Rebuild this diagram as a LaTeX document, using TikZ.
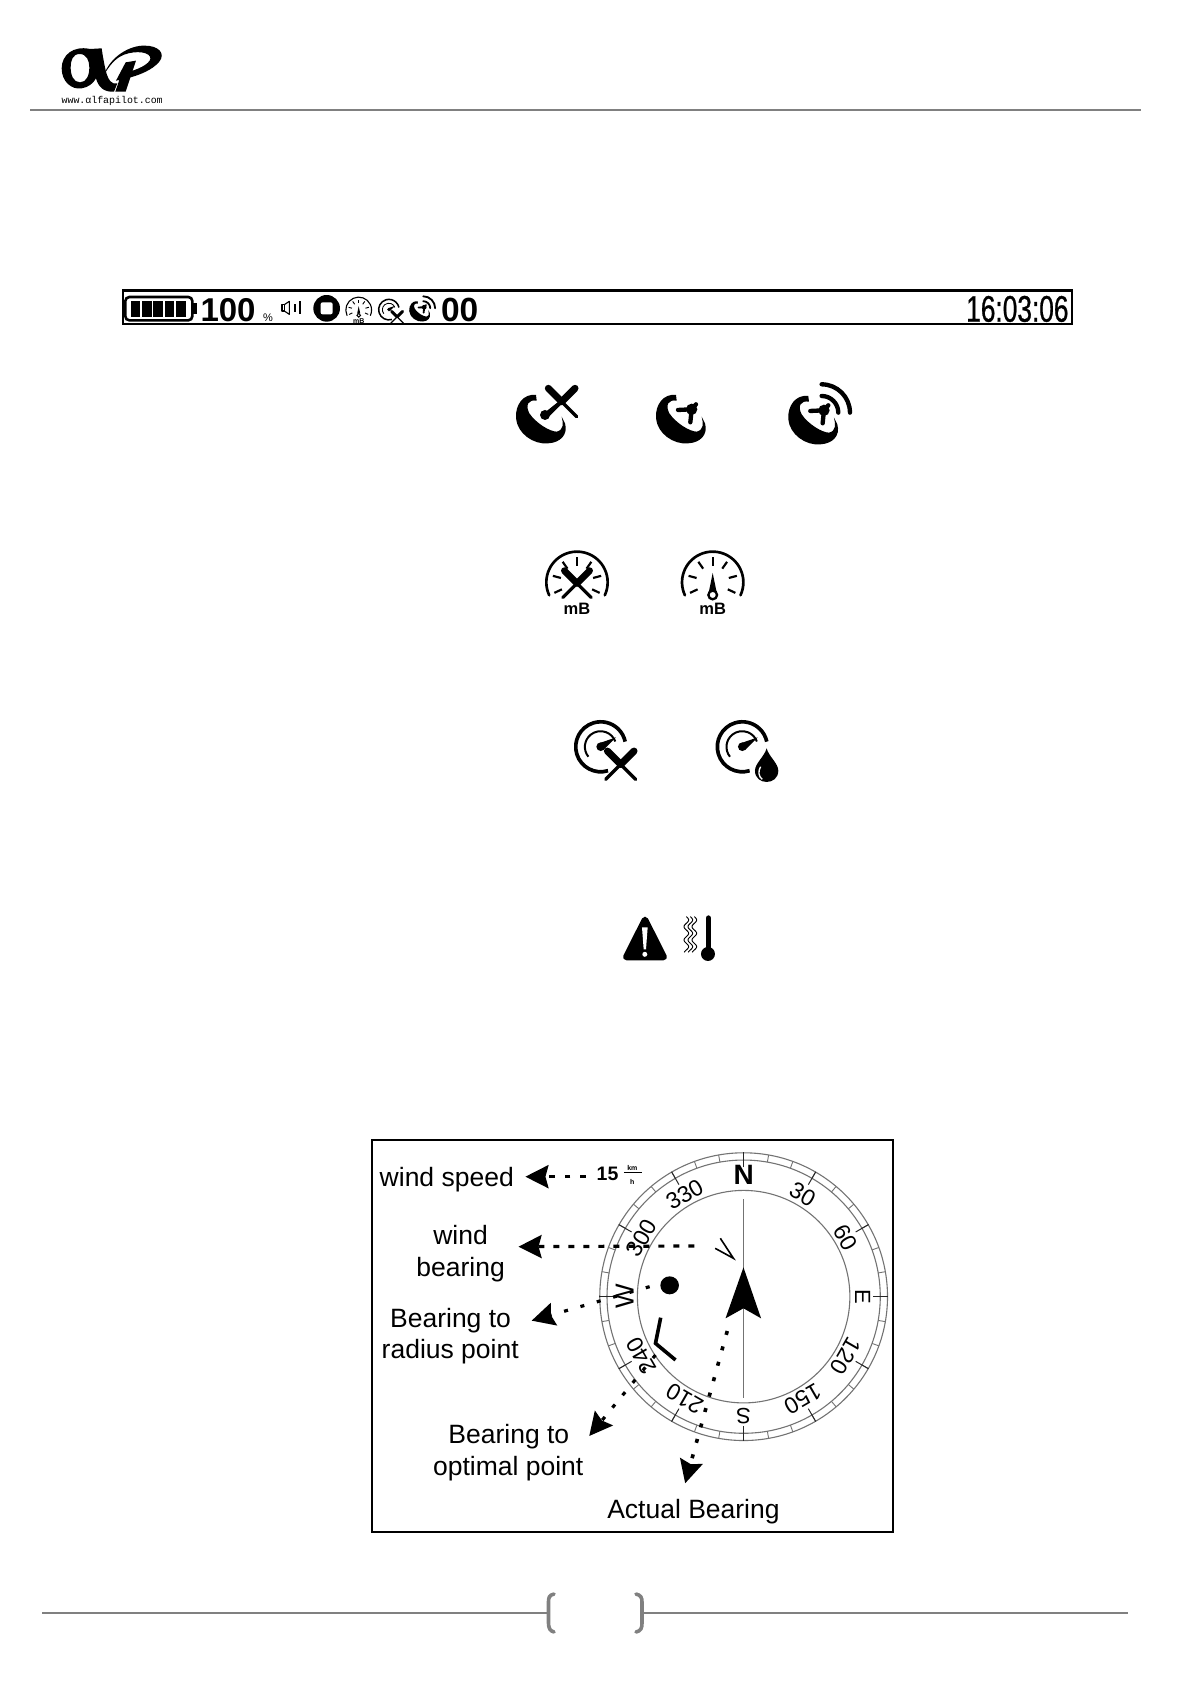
\documentclass[tikz,border=0pt]{standalone}
\usepackage{fontspec}
\setmainfont{Liberation Sans}
\newfontfamily\monof{Liberation Mono}
\newfontfamily\clockf[FakeBold=.9]{Liberation Sans}
\usetikzlibrary{arrows.meta}
\newcommand{\fsz}[1]{\fontsize{#1}{#1}\selectfont}
\tikzset{
  txt/.style={inner sep=0pt,outer sep=0pt},
  rule/.style={draw=black!50,line width=2pt},
  brk/.style={draw=black!50,line width=3.6pt,line cap=round},
  ring/.style={draw=black!55,line width=1.1pt},
  ptr/.style={line width=3.2pt,line cap=butt,-{Stealth[length=23pt,width=23pt,inset=3pt]}},
}
% cross: #1 x, #2 y, #3 scale, #4 unit
\newcommand{\crossicon}[4]{%
  \begin{scope}[shift={(#1,#2)},scale=#3,line cap=round]
    \draw[line width=#4*#3*10pt] (-42,-42)--(45,45);
    \draw[line width=#4*#3*10pt] (42,-42)--(-45,45);
    \draw[line width=#4*#3*21pt] (-40,-40)--(0,0);
    \draw[line width=#4*#3*21pt] (40,-40)--(0,0);
  \end{scope}}
% dish: #1 #2 position, #3 unit, #4 kind 0 cross,1 arm,2 waves
\newcommand{\dishicon}[4]{%
  \begin{scope}[shift={(#1,#2)},x=#3pt,y=-#3pt,line cap=round]
    \fill (-12,-70) .. controls (-50,-75) and (-75,-40) .. (-72,0)
      .. controls (-68,45) and (-20,80) .. (25,75)
      .. controls (60,73) and (85,50) .. (75,15) -- (65,-5)
      .. controls (70,15) and (72,35) .. (50,40)
      .. controls (30,40) and (-12,15) .. (-32,-15)
      .. controls (-45,-40) and (-35,-57) .. (-10,-53) -- cycle;
    \ifnum#4=0
      \fill (15,-10) circle[radius=15];
      \draw[line width=#3*12pt] (15,-10)--(65,-50);
      \crossicon{65}{-50}{1}{#3}
    \else
      \fill (35,-27) circle[radius=17];
      \draw[line width=#3*13pt] (35,-27)--(-6,-25);
      \draw[line width=#3*13pt] (35,-27)--(31,12);
      \draw[line width=#3*13pt] (35,-27)--(48,-42);
    \fi
    \ifnum#4=2
      \draw[line width=#3*13pt] (28,-70) arc[start angle=270,end angle=360,radius=50];
      \draw[line width=#3*13pt] (28,-105) arc[start angle=270,end angle=360,radius=85];
    \fi
  \end{scope}}
% gauge: #1 #2 arc centre, #3 unit, #4 0 cross 1 needle, #5 font size
\newcommand{\gaugeicon}[5]{%
  \begin{scope}[shift={(#1,#2)},x=#3pt,y=-#3pt]
    \draw[line width=#3*8pt,line cap=round] (155:92) arc[start angle=155,end angle=385,radius=92];
    \foreach \a in {155,195,235,270,305,345,385}
      \draw[line width=#3*6.5pt] (\a:50)--(\a:75);
    \ifnum#4=0
      \crossicon{0}{3}{.95}{#3}
    \else
      \fill[white] (-14,-35) rectangle (14,52);
      \fill (0,-28)--(11,26)--(-11,26)--cycle;
      \draw[line width=#3*7pt,fill=white] (0,38) circle[radius=13];
    \fi
    \node[txt,font=\bfseries\fsz{#5}] at (0,80) {mB};
  \end{scope}}
% speedometer: #1 #2 centre, #3 unit, #4 0 cross 1 drop
\newcommand{\speedicon}[4]{%
  \begin{scope}[shift={(#1,#2)},x=#3pt,y=-#3pt]
    \draw[line width=#3*11pt] (22,72) arc[start angle=73,end angle=348,radius=75];
    \draw[line width=#3*6pt] (-37,30) arc[start angle=141,end angle=340,radius=47];
    \fill (0,0) circle[radius=13];
    \fill (-6,-10)--(46,-28)--(8,10)--cycle;
    \ifnum#4=0
      \crossicon{60}{53}{1}{#3}
    \else
      \fill[white] (73,-5) .. controls (65,25) and (30,45) .. (30,72) .. controls (30,125) and (116,125) .. (116,72) .. controls (116,45) and (81,25) .. (73,-5) -- cycle;
      \fill (73,5) .. controls (66,30) and (38,50) .. (38,72) .. controls (38,117) and (108,117) .. (108,72) .. controls (108,50) and (80,30) .. (73,5) -- cycle;
      \draw[white,line width=#3*4pt] (55,60) .. controls (47,72) and (48,90) .. (60,98);
    \fi
  \end{scope}}
\begin{document}
\begin{tikzpicture}[x=1pt,y=-1pt]
\useasboundingbox (0,0) rectangle (1191,1684);
% ---- logo
\begin{scope}[shift={(30,30)},x=.3333pt,y=-.3333pt]
  \fill[even odd rule] (180,57) .. controls (130,46) and (95,75) .. (95,115)
     .. controls (95,155) and (125,180) .. (155,175)
     .. controls (175,172) and (190,160) .. (198,145)
     .. controls (205,170) and (220,187) .. (252,185) -- (262,160)
     .. controls (245,165) and (235,150) .. (228,125)
     .. controls (222,100) and (218,75) .. (215,55) -- cycle
     (149,72) .. controls (128,72) and (122,92) .. (122,112) .. controls (122,135) and (130,157) .. (150,157)
     .. controls (170,157) and (178,135) .. (178,112) .. controls (178,92) and (170,72) .. (149,72) -- cycle;
  \fill (222,135) .. controls (240,80) and (300,45) .. (345,47)
     .. controls (385,47) and (408,70) .. (388,95)
     .. controls (368,120) and (325,137) .. (290,145) -- (298,125)
     .. controls (335,115) and (368,95) .. (360,80)
     .. controls (352,62) and (300,62) .. (270,80)
     .. controls (250,92) and (235,112) .. (222,135) -- cycle;
  \fill (287,97)--(318,92)--(287,185)--(256,185)--(268,150)--(258,152)--cycle;
  \node[txt,anchor=base west,font=\monof\fsz{9.9}] (logotext) at (95,222) {www.\char"03B1 lfapilot.com};
\end{scope}
% ---- header and footer rules
\coordinate (hl) at (30,109.5); \coordinate (hr) at (1141,109.5);
\draw[rule] (hl)--(hr);
\coordinate (fl) at (42,1612.5); \coordinate (fa) at (547,1612.5);
\coordinate (fb) at (643,1612.5); \coordinate (fr) at (1128,1612.5);
\draw[rule] (fl)--(fa); \draw[rule] (fb)--(fr);
\draw[brk] (554,1594) .. controls (549,1595) and (548.5,1598) .. (548.5,1602) -- (548.5,1623) .. controls (548.5,1628) and (550,1631) .. (554,1632);
\draw[brk] (636,1594) .. controls (641,1595) and (642,1598) .. (642,1602) -- (642,1623) .. controls (642,1628) and (641,1631) .. (636,1632);
% ---- status bar
\draw[line width=2.4pt] (122.7,290.5) rectangle (1071.7,323.7);
\begin{scope}[shift={(110,280)},x=.3333pt,y=-.3333pt]
  \draw[line width=2.6pt,rounded corners=4pt] (46,51) rectangle (247,121);
  \fill (247,70) rectangle (261,101);
  \foreach \c in {62,96,130,164,198} \fill (\c,62) rectangle (\c+29,110);
  \draw[line width=1.1pt,line join=round] (516,74) rectangle (523,93);
  \draw[line width=1.1pt,line join=round] (523,74)--(538,64)--(538,103)--(523,93);
  \draw[line width=1.9pt] (554,73)--(554,96) (571,64)--(571,103);
  \fill (650,85) circle[radius=40];
  \fill[white,rounded corners=2pt] (632,67) rectangle (668,103);
\end{scope}
\node[txt,anchor=base west,font=\bfseries\fsz{33}] (pct) at (200.5,321.5) {100};
\node[txt,anchor=base west,font=\fsz{11}] (pctsign) at (263,321) {\%};
\gaugeicon{358.7}{310}{.14}{1}{7}
\speedicon{388.9}{309.6}{.137}{0}
\dishicon{419.3}{311}{.14}{2}
\node[txt,anchor=base west,font=\bfseries\fsz{33.5}] (zeros) at (441,321.5) {00};
\node[txt,anchor=base east] (clock) at (1068.5,321.7) {\scalebox{.71}[1]{\clockf\fsz{37}16:03:06}};
% ---- icon rows
\dishicon{540}{418.3}{.3333}{0}
\dishicon{680}{418.3}{.3333}{1}
\dishicon{812.3}{419.3}{.3333}{2}
\gaugeicon{577}{582.3}{.3333}{0}{16.5}
\gaugeicon{712.7}{582.3}{.3333}{1}{16.5}
\speedicon{600.7}{746.7}{.3333}{0}
\speedicon{742.3}{746.7}{.3333}{1}
% ---- warning and temperature
\begin{scope}[shift={(560,700)},x=.3333pt,y=-.3333pt]
  \fill[draw,line width=6.6pt,line join=round] (255,660)--(311,771)--(199,771)--cycle;
  \fill[white] (246,682)--(263,682)--(258,748)--(251,748)--cycle;
  \fill[white] (254.5,763) circle[radius=7.5];
  \draw[line width=5.3pt,line cap=round] (445,654)--(445,750);
  \fill (444,762) circle[radius=21];
  \foreach \o in {379,391,403}
    \draw[line width=.95pt] plot[domain=650:757,samples=50,smooth] ({\o+7*sin((\x-650)*9)},\x);
\end{scope}
% ---- compass panel
\begin{scope}[shift={(365,1130)},x=.345pt,y=-.3333pt]
  \draw[line width=2pt] (20,30) rectangle (1530,1207);
  \node[txt,font=\fsz{26.5}] (t1) at (237,149) {wind speed};
  \node[txt,font=\fsz{26.5}] (t2) at (277,315) {wind};
  \node[txt,font=\fsz{26.5}] (t3) at (277,419) {bearing};
  \node[txt,font=\fsz{26.5}] (t4) at (248,572) {Bearing to};
  \node[txt,font=\fsz{26.5}] (t5) at (247,664) {radius point};
  \node[txt,font=\fsz{26.5}] (t6) at (417,921) {Bearing to};
  \node[txt,font=\fsz{26.5}] (t7) at (415,1016) {optimal point};
  \node[txt,font=\fsz{26.5}] (t8) at (952,1144) {Actual Bearing};
  \node[txt,font=\bfseries\fsz{19.5}] (speed) at (703,133) {15};
  \node[txt,font=\bfseries\fsz{7}] (km) at (775,114) {km};
  \node[txt,font=\bfseries\fsz{7}] (hh) at (775,157) {h};
  \draw[line width=.8pt] (750,128)--(802,128);
  \begin{scope}[shift={(1097.5,500)},y=-.345pt]
    \draw[ring] (0,0) circle[radius=417];
    \draw[ring] (0,0) circle[radius=396];
    \draw[ring] (0,0) circle[radius=308];
    \foreach \b in {0,10,...,350}
      \draw[ring,line width=.9pt] ({\b-90}:396)--({\b-90}:417);
    \foreach \b in {0,30,...,330}
      \draw[line width=1pt,black!85] ({\b-90}:375)--({\b-90}:418);
    \foreach \b/\l in {30/30,60/60,120/120,150/150,210/210,240/240,300/300,330/330}
      \node[txt,font=\fsz{23},rotate=-\b] (b\b) at ({\b-90}:342) {\l};
    \node[txt,font=\fsz{22},rotate=-90] (bE) at (0:345) {E};
    \node[txt,font=\fsz{22},rotate=180] (bS) at (90:345) {S};
    \node[txt,font=\fsz{26},rotate=90] (bW) at (180:345) {W};
    \node[txt,font=\bfseries\fsz{28}] (bN) at (270:352) {N};
  \end{scope}
  \draw[black!55,line width=1.6pt] (1097,208)--(1097,805);
  \fill (1097,412)--(1148,565)--(1097,535)--(1045,565)--cycle;
  \fill (883,466) circle[radius=27];
  \draw[line width=3.6pt,line join=miter] (857,563)--(842,640)--(900,690);
  \draw[line width=1.6pt] (1015,355)--(1068,385)--(1030,325);
  \coordinate (a1) at (640,140); \coordinate (b1) at (465,140);
  \coordinate (a2) at (955,348); \coordinate (b2) at (445,350);
  \coordinate (a3) at (825,470); \coordinate (b3) at (483,572);
  \coordinate (a4) at (842,675); \coordinate (b4) at (650,918);
  \coordinate (a5) at (1050,603); \coordinate (b5) at (928,1060);
  \draw[ptr,dash pattern=on 5.5pt off 10pt] (a1)--(b1);
  \draw[ptr,dash pattern=on 6pt off 9pt] (a2)--(b2);
  \draw[ptr,dash pattern=on 4pt off 13pt] (a3)--(b3);
  \draw[ptr,dash pattern=on 4pt off 12pt] (a4)--(b4);
  \draw[ptr,line width=3.6pt,dash pattern=on 4pt off 12pt] (a5)--(b5);
\end{scope}
\end{tikzpicture}
\end{document}
